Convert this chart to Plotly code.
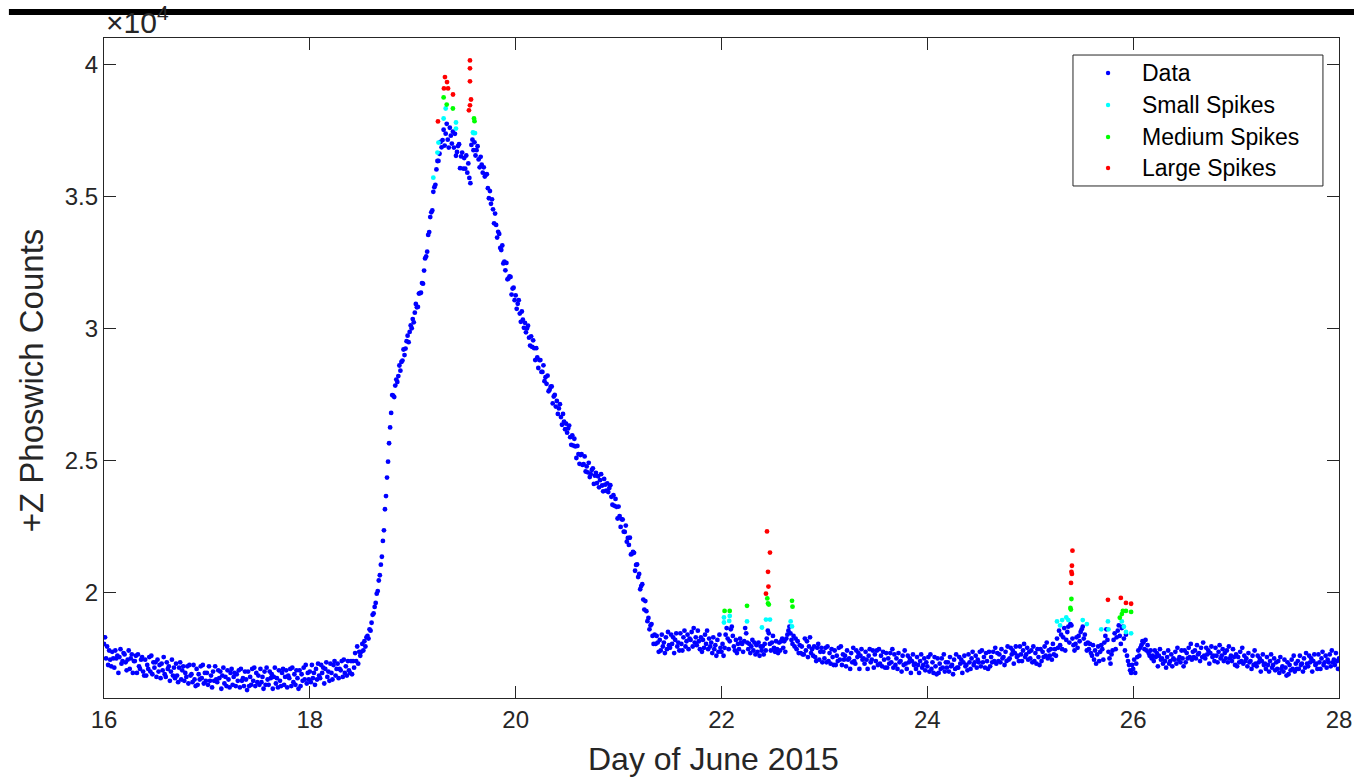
import numpy as np
import plotly.graph_objects as go

# ---------------- data ----------------
day_start = 16.0
day_step = 0.01

counts = [
    18050, 18300, 17500, 17950, 17250, 17800, 17450, 17200, 17750, 17500,  # 16.0
    17150, 17800, 17500, 17600, 16950, 17550, 17850, 17300, 17400, 17700,  # 16.1
    17650, 17350, 17050, 17450, 17800, 17100, 17500, 17650, 16950, 17400,  # 16.2
    17400, 17600, 16950, 17650, 17200, 17100, 17450, 17550, 17000, 16850,  # 16.3
    17450, 16850, 17250, 17100, 17550, 17000, 17600, 16900, 17350, 17150,  # 16.4
    17350, 16800, 17450, 17000, 17250, 16750, 17300, 17050, 17550, 16900,  # 16.5
    16800, 17350, 17100, 17200, 16650, 17000, 17450, 16850, 17150, 16750,  # 16.6
    17300, 16850, 16600, 17150, 17350, 16700, 17050, 17200, 16650, 16950,  # 16.7
    16800, 17200, 16550, 17250, 16850, 16900, 16600, 17250, 16700, 16450,  # 16.8
    17100, 16500, 16900, 16700, 17200, 16750, 17250, 16550, 16950, 16650,  # 16.9
    16950, 16500, 17200, 16650, 16850, 16400, 17000, 16650, 17200, 16700,  # 17.0
    16600, 17050, 16750, 17000, 16350, 16850, 17150, 16550, 16800, 16450,  # 17.1
    17050, 16700, 16400, 16950, 17100, 16500, 16800, 16950, 16450, 16900,  # 17.2
    16650, 17050, 16400, 17100, 16650, 16750, 16450, 17000, 16700, 16300,  # 17.3
    17000, 16450, 16800, 16500, 17100, 16650, 17150, 16450, 16950, 16600,  # 17.4
    16850, 16500, 17100, 16600, 16800, 16350, 17000, 16500, 17150, 16700,  # 17.5
    16500, 17000, 16750, 16900, 16350, 16800, 17150, 16550, 16750, 16400,  # 17.6
    17050, 16650, 16450, 16950, 17100, 16500, 16800, 17050, 16400, 16850,  # 17.7
    16750, 17100, 16450, 17150, 16600, 16900, 16500, 17050, 16750, 16350,  # 17.8
    17050, 16450, 16900, 16650, 17150, 16700, 17250, 16550, 16950, 16700,  # 17.9
    17000, 16600, 17250, 16750, 16950, 16500, 17100, 16700, 17300, 16850,  # 18.0
    16750, 17250, 16950, 17150, 16550, 17100, 17350, 16800, 17000, 16650,  # 18.1
    17300, 16950, 16700, 17250, 17400, 16850, 17100, 17300, 16750, 17100,  # 18.2
    17050, 17400, 16800, 17450, 16950, 17200, 16850, 17400, 17050, 16950,  # 18.3
    17400, 16900, 17400, 17150, 17700, 17400, 17950, 17300, 17750, 17600,  # 18.4
    17750, 18050, 17800, 18150, 17950, 18300, 18350, 18250, 18600, 18550,  # 18.5
    18850, 19150, 19200, 19450, 19600, 19950, 20050, 20450, 20650, 21050,  # 18.6
    21350, 21950, 22350, 23150, 23650, 24350, 24950, 25650, 26250, 26800,  # 18.7
    27475, 27455, 27400, 27835, 28060, 27970, 28195, 28595, 28400, 28730,  # 18.8
    28780, 29200, 28990, 29235, 29515, 29725, 29480, 29865, 30110, 30005,  # 18.9
    30355, 30230, 30595, 30925, 30800, 30815, 31320, 31335, 31350, 31715,  # 19.0
    31695, 32190, 32650, 32725, 32905, 33540, 33650, 34215, 34395, 34470,  # 19.1
    35175, 35350, 35440, 36020, 36340, 36345, 36615, 37060, 36860, 37135,  # 19.2
    37525, 36925, 37375, 37750, 37150, 36850, 37600, 37300, 37000, 37450,  # 19.3
    36850, 37370, 36540, 36685, 36905, 36975, 36070, 36515, 36660, 36055,  # 19.4
    36450, 36050, 36550, 35900, 36250, 35700, 35500, 36950, 37150, 36750,  # 19.5
    37050, 36550, 36750, 36900, 36400, 36100, 36500, 36200, 35900, 36100,  # 19.6
    35750, 35820, 35840, 35310, 34930, 35200, 34720, 34890, 34510, 33980,  # 19.7
    34350, 33920, 33440, 33660, 33580, 33050, 32970, 33140, 32460, 32530,  # 19.8
    32200, 32480, 31860, 31890, 31970, 31950, 31280, 31510, 31540, 31070,  # 19.9
    31250, 30740, 30930, 31070, 30560, 30250, 30640, 30330, 30020, 30210,  # 20.0
    29850, 30000, 30100, 29650, 29350, 29700, 29300, 29550, 29250, 28800,  # 20.1
    29250, 28900, 28500, 28800, 28800, 28350, 28350, 28600, 28000, 28150,  # 20.2
    27900, 28210, 27620, 27680, 27790, 27800, 27160, 27420, 27480, 27040,  # 20.3
    27250, 26760, 26970, 27130, 26640, 26350, 26760, 26470, 26180, 26390,  # 20.4
    26050, 26210, 26320, 25880, 25590, 25950, 25560, 25820, 25530, 25090,  # 20.5
    25550, 25240, 24870, 25200, 25240, 24830, 24860, 25150, 24580, 24770,  # 20.6
    24550, 24910, 24370, 24480, 24640, 24700, 24110, 24420, 24530, 24140,  # 20.7
    24400, 23980, 24250, 24480, 24050, 23830, 24300, 24080, 23850, 24130,  # 20.8
    23800, 23950, 24060, 23620, 23320, 23680, 23280, 23540, 23240, 22800,  # 20.9
    23250, 22890, 22480, 22770, 22760, 22300, 22290, 22530, 21920, 22060,  # 21.0
    21800, 22070, 21440, 21460, 21530, 21500, 20820, 21040, 21060, 20580,  # 21.1
    20700, 20120, 20240, 20310, 19730, 19350, 19670, 19290, 18910, 19030,  # 21.2
    18600, 18750, 18800, 18350, 18050, 18400, 18050, 18350, 18100, 17750,  # 21.3
    18200, 17800, 18400, 17950, 18100, 17700, 18300, 17850, 18500, 18000,  # 21.4
    17900, 18400, 18050, 18300, 17700, 18200, 18450, 17950, 18100, 17800,  # 21.5
    18450, 18050, 17800, 18300, 18550, 17950, 18150, 18400, 17850, 18250,  # 21.6
    18200, 18500, 17950, 18650, 18100, 18300, 18000, 18550, 18150, 17850,  # 21.7
    18300, 17750, 18200, 17900, 18400, 18050, 18550, 17850, 18250, 17950,  # 21.8
    18100, 17700, 18300, 17850, 18000, 17600, 18200, 17750, 18400, 17900,  # 21.9
    17750, 18050, 17600, 17900, 18400, 18650, 18250, 17850, 18150, 18600,  # 22.0
    18700, 18350, 17950, 17800, 18200, 17700, 18050, 17850, 18250, 18100,  # 22.1
    18050, 17750, 18150, 18650, 18450, 18100, 17850, 18050, 17700, 17950,  # 22.2
    18200, 17800, 18100, 17650, 18000, 17750, 18100, 17600, 17950, 17800,  # 22.3
    17950, 17650, 18050, 17800, 18250, 18550, 18450, 18050, 17800, 18100,  # 22.4
    18350, 17900, 17750, 18150, 17850, 17700, 18100, 17800, 18150, 18250,  # 22.5
    17900, 18150, 17750, 18250, 18400, 18550, 18700, 18450, 18200, 18050,  # 22.6
    18350, 17950, 18250, 17850, 18150, 17700, 18000, 17700, 17950, 17650,  # 22.7
    17650, 18250, 17800, 18150, 17550, 17950, 18300, 17700, 17850, 17600,  # 22.8
    17950, 17550, 17400, 17900, 18050, 17450, 17750, 17900, 17350, 17750,  # 22.9
    17500, 17900, 17350, 17950, 17400, 17700, 17300, 17850, 17550, 17250,  # 23.0
    17800, 17250, 17600, 17400, 17900, 17450, 17950, 17250, 17650, 17450,  # 23.1
    17600, 17200, 17800, 17450, 17500, 17100, 17700, 17350, 17900, 17400,  # 23.2
    17300, 17800, 17550, 17700, 17100, 17600, 17850, 17450, 17500, 17300,  # 23.3
    17750, 17450, 17100, 17600, 17850, 17350, 17450, 17800, 17150, 17650,  # 23.4
    17400, 17800, 17250, 17850, 17300, 17600, 17200, 17750, 17450, 17150,  # 23.5
    17700, 17150, 17500, 17300, 17700, 17350, 17850, 17150, 17650, 17250,  # 23.6
    17500, 17100, 17700, 17350, 17400, 17000, 17600, 17250, 17800, 17300,  # 23.7
    17100, 17600, 17350, 17500, 16950, 17400, 17650, 17250, 17300, 17100,  # 23.8
    17550, 17250, 16950, 17400, 17650, 17150, 17250, 17500, 17050, 17350,  # 23.9
    17200, 17550, 17000, 17650, 17100, 17350, 16950, 17550, 17200, 16900,  # 24.0
    17500, 16950, 17300, 17100, 17500, 17150, 17650, 17000, 17350, 17150,  # 24.1
    17350, 17000, 17550, 17200, 17250, 16900, 17450, 17100, 17650, 17150,  # 24.2
    17150, 17550, 17300, 17450, 16950, 17350, 17600, 17200, 17250, 17050,  # 24.3
    17650, 17350, 17100, 17500, 17750, 17250, 17350, 17600, 17150, 17450,  # 24.4
    17350, 17750, 17200, 17800, 17350, 17550, 17150, 17700, 17400, 17100,  # 24.5
    17750, 17200, 17550, 17350, 17750, 17400, 17900, 17300, 17700, 17400,  # 24.6
    17650, 17350, 17850, 17500, 17550, 17250, 17750, 17400, 17950, 17450,  # 24.7
    17500, 17900, 17650, 17800, 17300, 17700, 17950, 17550, 17600, 17400,  # 24.8
    17950, 17650, 17400, 17800, 18050, 17550, 17650, 17900, 17450, 17750,  # 24.9
    17500, 17800, 17350, 17950, 17400, 17700, 17300, 17850, 17550, 17250,  # 25.0
    17850, 17400, 17750, 17550, 17950, 17600, 18100, 17500, 17800, 17600,  # 25.1
    17850, 17450, 18050, 17650, 17850, 17600, 18250, 17900, 18550, 18000,  # 25.2
    18400, 17850, 18300, 18650, 17800, 18200, 18500, 18700, 18100, 18800,  # 25.3
    18750, 18250, 18000, 17800, 18050, 18300, 17900, 18350, 18150, 18500,  # 25.4
    18600, 18700, 18250, 18400, 18050, 17800, 18100, 17850, 18050, 17700,  # 25.5
    17600, 18000, 17450, 17800, 17300, 17650, 17950, 17400, 17750, 18000,  # 25.6
    17850, 17450, 18100, 18350, 18600, 18200, 17750, 17500, 17300, 17650,  # 25.7
    17800, 18200, 18450, 17850, 18300, 18550, 18750, 18350, 18050, 18650,  # 25.8
    18700, 18250, 17800, 18400, 17600, 17400, 17250, 17050, 16950, 17250,  # 25.9
    17100, 17450, 16950, 17300, 17550, 17800, 17600, 17900, 18000, 18150,  # 26.0
    18100, 17850, 18200, 17800, 18000, 17700, 17600, 17800, 17500, 17600,  # 26.1
    17400, 17800, 17550, 17700, 17200, 17600, 17850, 17450, 17500, 17300,  # 26.2
    17700, 17400, 17150, 17550, 17800, 17300, 17400, 17650, 17200, 17500,  # 26.3
    17450, 17750, 17300, 17900, 17450, 17550, 17350, 17800, 17500, 17200,  # 26.4
    17800, 17350, 17700, 17500, 17900, 17550, 18050, 17450, 17750, 17550,  # 26.5
    17800, 17500, 18000, 17650, 17700, 17400, 17900, 17550, 18100, 17600,  # 26.6
    17500, 17900, 17650, 17800, 17300, 17700, 17950, 17550, 17600, 17400,  # 26.7
    17900, 17600, 17350, 17750, 18000, 17500, 17600, 17850, 17400, 17700,  # 26.8
    17500, 17800, 17350, 17950, 17500, 17600, 17400, 17850, 17550, 17250,  # 26.9
    17650, 17200, 17550, 17350, 17750, 17400, 17900, 17300, 17600, 17400,  # 27.0
    17500, 17200, 17700, 17350, 17400, 17100, 17600, 17250, 17800, 17300,  # 27.1
    17200, 17600, 17350, 17500, 17000, 17400, 17650, 17250, 17300, 17100,  # 27.2
    17550, 17250, 17000, 17400, 17650, 17150, 17250, 17500, 17050, 17350,  # 27.3
    17100, 17400, 16950, 17550, 17100, 17200, 17000, 17450, 17150, 16850,  # 27.4
    17350, 16900, 17250, 17050, 17450, 17100, 17600, 17000, 17300, 17100,  # 27.5
    17400, 17100, 17600, 17250, 17300, 17000, 17500, 17150, 17700, 17300,  # 27.6
    17200, 17600, 17350, 17500, 17000, 17400, 17650, 17250, 17300, 17100,  # 27.7
    17650, 17350, 17100, 17500, 17750, 17250, 17350, 17600, 17150, 17450,  # 27.8
    17350, 17650, 17200, 17800, 17350, 17450, 17250, 17700, 17400, 17100,  # 27.9
    17500,                                                                 # 28.0
]

small_days = [19.20, 19.24, 19.25, 19.30, 19.32, 19.42, 19.42, 19.585, 19.59, 19.605,
              22.024, 22.024, 22.08, 22.075, 22.248, 22.393, 22.432, 22.471, 22.672, 22.685,
              25.26, 25.29, 25.31, 25.35, 25.37, 25.51, 25.55, 25.69, 25.755, 25.76,
              25.89, 25.91, 25.93, 25.98]
small_counts = [35710, 36660, 37040, 37950, 38330, 37800, 37570, 37420, 37400, 37400,
                19050, 18860, 19110, 18920, 18900, 18670, 18970, 18970, 18900, 18710,
                18900, 18750, 18950, 19050, 18950, 18950, 18800, 18600, 18900, 18600,
                18900, 18700, 18500, 18450]

medium_days = [19.30, 19.33, 19.39, 19.595, 19.60,
               22.03, 22.08, 22.248, 22.445, 22.452, 22.46, 22.685, 22.69,
               25.40, 25.39, 25.395, 25.87, 25.89, 25.90, 25.93, 25.98]
medium_counts = [38750, 38480, 38330, 37950, 37850,
                 19300, 19300, 19490, 19770, 19580, 19540, 19680, 19460,
                 19750, 19410, 19350, 19040, 19180, 19300, 19300, 19260]

large_days = [19.245, 19.303, 19.313, 19.333, 19.343, 19.391,
              19.546, 19.556, 19.556, 19.556, 19.556, 19.566,
              22.432, 22.442, 22.452, 22.456, 22.471,
              25.396, 25.40, 25.405, 25.405, 25.41,
              25.755, 25.88, 25.93, 25.98]
large_counts = [37840, 39090, 39520, 39330, 39090, 38860,
                38260, 38450, 39360, 39850, 40150, 38670,
                19950, 22310, 20780, 20220, 21510,
                20360, 20780, 20700, 21010, 21580,
                19720, 19790, 19600, 19570]

series_names = ["Data", "Small Spikes", "Medium Spikes", "Large Spikes"]
series_colors = ["rgb(0,0,255)", "rgb(0,255,255)", "rgb(0,255,0)", "rgb(255,0,0)"]

x_ticks = [16, 18, 20, 22, 24, 26, 28]
y_ticks = [20000, 25000, 30000, 35000, 40000]
y_tick_text = ["2", "2.5", "3", "3.5", "4"]

# ---------------- figure ----------------
days = day_start + day_step * np.arange(len(counts))

FONT = "Liberation Sans, Arial, Helvetica, sans-serif"
INK = "#262626"
MS = 4.8

fig = go.Figure()
for (xs, ys), name, col in zip([(days, counts), (small_days, small_counts),
                                (medium_days, medium_counts), (large_days, large_counts)],
                               series_names, series_colors):
    fig.add_trace(go.Scatter(x=xs, y=ys, mode="markers", name=name, showlegend=False,
                             marker=dict(color=col, size=MS, line=dict(width=0))))

axis_common = dict(showgrid=False, zeroline=False, showline=True, linecolor=INK, linewidth=1.2,
                   mirror="ticks", ticks="inside", ticklen=12, tickwidth=1.2, tickcolor=INK,
                   automargin=False,
                   tickfont=dict(family=FONT, size=24, color=INK))

fig.update_layout(
    width=1354, height=778,
    margin=dict(l=104, r=15, t=38, b=80, autoexpand=False),
    paper_bgcolor="white", plot_bgcolor="white",
    xaxis=dict(range=[16, 28], tickvals=x_ticks, ticktext=[str(v) for v in x_ticks], **axis_common),
    yaxis=dict(range=[16000, 41000], tickvals=y_ticks, ticktext=y_tick_text, **axis_common),
    showlegend=False,
)

# legend box (MATLAB style), drawn in paper coordinates
fig.add_shape(type="rect", xref="paper", yref="paper",
              x0=0.7846, x1=0.9870, y0=0.7758, y1=0.9742,
              fillcolor="white", line=dict(color=INK, width=1), layer="above")
leg_rows = [0.9470, 0.8985, 0.8500, 0.8030]
for name, col, yy in zip(series_names, series_colors, leg_rows):
    fig.add_shape(type="circle", xref="paper", yref="paper",
                  xsizemode="pixel", ysizemode="pixel", xanchor=0.8130, yanchor=yy,
                  x0=-2.2, x1=2.2, y0=-2.2, y1=2.2,
                  fillcolor=col, line=dict(width=0), layer="above")
    fig.add_annotation(text=name, xref="paper", yref="paper", x=0.8389, y=yy,
                       xanchor="left", yanchor="middle", showarrow=False,
                       font=dict(family=FONT, size=23, color="black"))

fig.add_annotation(text="Day of June 2015", xref="paper", yref="paper",
                   x=0.4938, y=-0.093, xanchor="center", yanchor="middle", showarrow=False,
                   font=dict(family=FONT, size=32, color=INK))
fig.add_annotation(text="+Z Phoswich Counts", xref="paper", yref="paper",
                   x=-0.058, y=0.482, xanchor="center", yanchor="middle", showarrow=False,
                   textangle=-90, font=dict(family=FONT, size=33, color=INK))
fig.add_annotation(text="×10<sup>4</sup>", xref="paper", yref="paper",
                   x=0.0, y=0.995, xanchor="left", yanchor="bottom", showarrow=False,
                   font=dict(family=FONT, size=30, color=INK))

# thick black bar across the top of the image (present in the reference)
fig.add_shape(type="rect", xref="paper", yref="paper",
              x0=-0.077, x1=1.013, y0=1.0348, y1=1.0439,
              fillcolor="black", line=dict(width=0), layer="above")

fig.write_html("out.html")
